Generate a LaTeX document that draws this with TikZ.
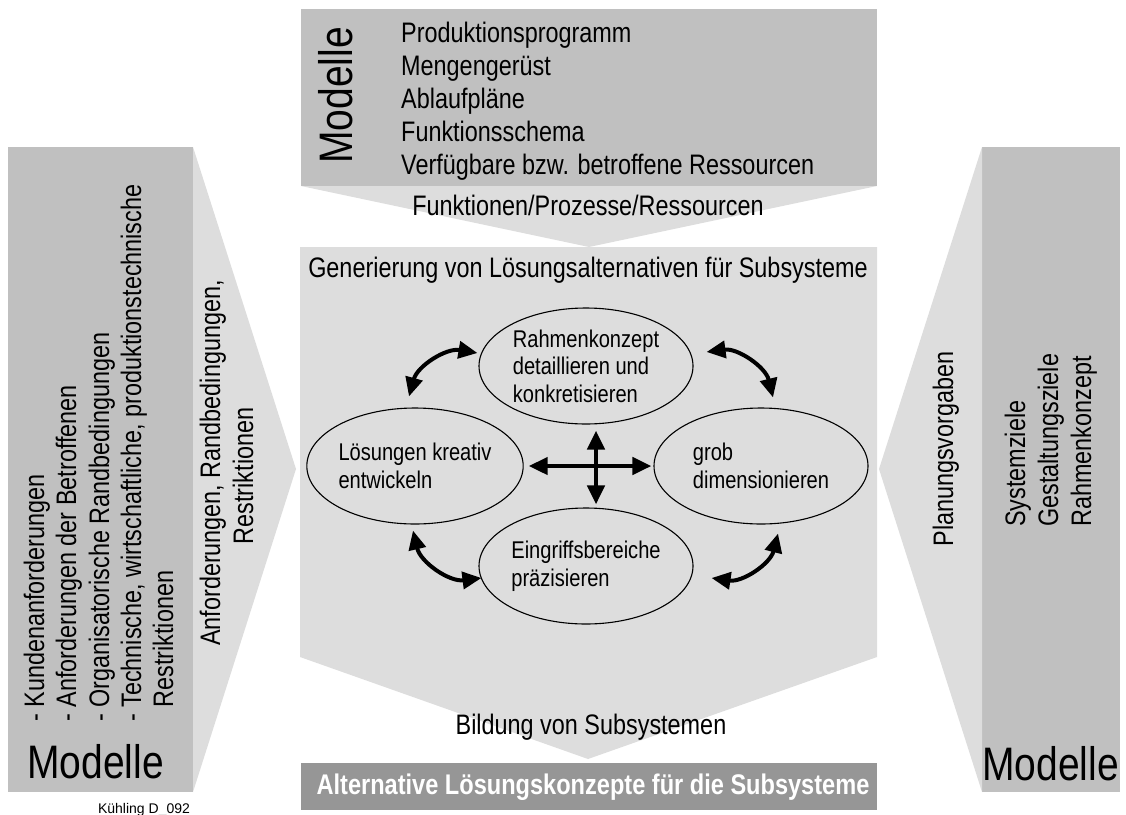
\documentclass[tikz,border=0pt]{standalone}
\usepackage{fontspec}
\setmainfont{Liberation Sans}[FakeStretch=0.83]
\newfontfamily\plainfont{Liberation Sans}
\usepackage{tikz}
\usetikzlibrary{calc}
\usetikzlibrary{positioning}
\usetikzlibrary{shapes.geometric}
\usetikzlibrary{arrows.meta}

\definecolor{boxgray}{RGB}{192,192,192}
\definecolor{flowgray}{RGB}{221,221,221}
\definecolor{resgray}{RGB}{150,150,150}

\begin{document}
\begin{tikzpicture}[x=1pt,y=-1pt,>={Triangle[length=19pt,width=17pt]},
        every node/.style={font=\fontsize{28.2}{33}\selectfont, inner sep=0pt},
        txt/.style={anchor=base west},
        vtxt/.style={rotate=90, anchor=base west},
        big/.style={font=\fontsize{47}{47}\selectfont},
        phaseell/.style={draw, line width=1.1pt, ellipse, minimum width=214pt, minimum height=116pt,
                align=left, font=\fontsize{24.2}{27.5}\selectfont},
        cyclearrow/.style={<->, line width=4pt},
        crossarrow/.style={<->, line width=4.5pt}]
        \useasboundingbox (0,0) rectangle (1126,814);

        % Kaesten und Blockpfeile
        \fill[boxgray] (8,147) rectangle (193,792);
        \fill[boxgray] (982,147) rectangle (1120,792);
        \fill[boxgray] (301,9) rectangle (877,186);
        \fill[resgray] (301,763) rectangle (877,810);
        \fill[flowgray] (193,147) -- (296,469) -- (193,792) -- cycle;
        \fill[flowgray] (982,147) -- (879,469) -- (982,792) -- cycle;
        \fill[flowgray] (301,186) -- (877,186) -- (589,247) -- cycle;
        \fill[flowgray] (300,247) -- (877,247) -- (877,657) -- (588,759) -- (300,657) -- cycle;

        % oben
        \node[vtxt, big] (mtop) at (352,164) {Modelle};
        \foreach \txt [count=\i] in {Produktionsprogramm, Mengengerüst, Ablaufpläne,
                Funktionsschema, Verfügbare bzw. betroffene Ressourcen}
        \node[txt] (top\i) at (401,9+33*\i) {\txt};
        \node[anchor=base] (fpr) at (588,215) {Funktionen/Prozesse/Ressourcen};

        % links
        \node[vtxt] (kund) at (44,722) {- Kundenanforderungen};
        \node[vtxt] (betr) at (76,722) {- Anforderungen der Betroffenen};
        \node[vtxt] (orga) at (109,722) {- Organisatorische Randbedingungen};
        \node[vtxt] (tech) at (141,722) {- Technische, wirtschaftliche, produktionstechnische};
        \node[vtxt] (restr) at (173,722) {\phantom{- }Restriktionen};
        \node[txt, big] (mleft) at (27,778) {Modelle};
        \node[anchor=base, font=\plainfont\fontsize{14}{14}\selectfont] (ref) at (144,813) {Kühling D\_092};
        \node[vtxt, anchor=base] (anf) at (220,463) {Anforderungen, Randbedingungen,};
        \node[vtxt, anchor=base] (anfr) at (253,476) {Restriktionen};

        % rechts
        \node[vtxt, anchor=base] (plan) at (953,449) {Planungsvorgaben};
        \node[vtxt] (sysz) at (1025,527) {Systemziele};
        \node[vtxt] (gest) at (1058,527) {Gestaltungsziele};
        \node[vtxt] (rahm) at (1091,527) {Rahmenkonzept};
        \node[txt, big] (mright) at (982,780) {Modelle};

        % Mitte
        \node[anchor=base] (gen) at (588,277) {Generierung von Lösungsalternativen für Subsysteme};
        \node[phaseell] (rk) at (586,366) {Rahmenkonzept\\detaillieren und\\konkretisieren};
        \node[phaseell] (loes) at (415,466) {Lösungen kreativ\\entwickeln};
        \node[phaseell] (grob) at (761,466) {grob\\dimensionieren};
        \node[phaseell] (ein) at (586,566) {Eingriffsbereiche\\präzisieren};

        \draw[cyclearrow] ([shift={(-6,-11)}]loes.north) to[bend left=42] ([shift={(-1,-13)}]rk.west);
        \draw[cyclearrow] ([shift={(13,-14)}]rk.east) to[bend left=42] ([shift={(12,-10)}]grob.north);
        \draw[cyclearrow] ([shift={(-2,6)}]loes.south) to[bend right=42] ([shift={(3,12)}]ein.west);
        \draw[cyclearrow] ([shift={(18,12)}]ein.east) to[bend right=42] ([shift={(17,9)}]grob.south);
        \draw[crossarrow] ([xshift=5]loes.east) -- ([xshift=-2]grob.west);
        \draw[crossarrow] ([shift={(10,6)}]rk.south) -- ([shift={(10,-3)}]ein.north);

        % unten
        \node[anchor=base] (bild) at (591,734) {Bildung von Subsystemen};
        \node[anchor=base, text=white, font=\bfseries\fontsize{28.4}{30}\selectfont] (alt) at (593,794)
                {Alternative Lösungskonzepte für die Subsysteme};
\end{tikzpicture}
\end{document}
